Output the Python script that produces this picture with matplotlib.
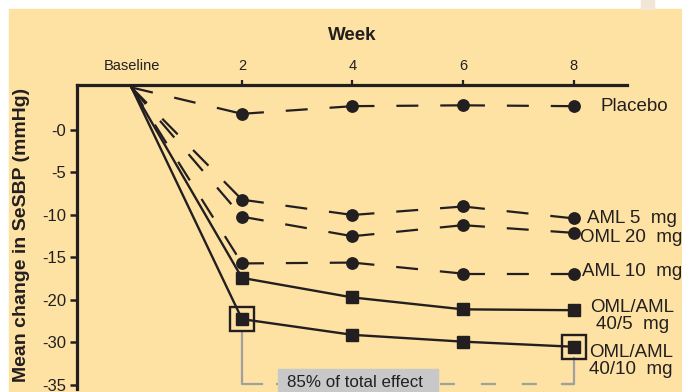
import numpy as np
import matplotlib.pyplot as plt
from matplotlib.patches import Rectangle

plt.rcParams['font.family'] = ['Liberation Sans', 'DejaVu Sans']
plt.rcParams['lines.scale_dashes'] = False

# data (mean change in SeSBP, mmHg)
weeks = [0, 2, 4, 6, 8]
week_labels = ['Baseline', '2', '4', '6', '8']
baseline_value = 5  # baseline sits on the top axis line

placebo = [1.9, 2.8, 2.9, 2.8]
aml_5 = [-8.2, -10.0, -9.0, -10.4]
oml_20 = [-10.2, -12.5, -11.2, -12.1]
aml_10 = [-15.7, -15.6, -16.9, -16.9]
oml_aml_40_5 = [-17.4, -19.7, -22.2, -22.4]
oml_aml_40_10 = [-24.5, -28.2, -29.8, -30.5]

y_ticks = [0, -5, -10, -15, -20, -30, -35]
y_tick_labels = ['-0', '-5', '-10', '-15', '-20', '-30', '-35']

# the axis is broken: -20 to -30 takes the same room as one 5 mmHg step
val_knots = [-200, -35, -30, -20, -15, -10, -5, 0, 5, 200]
pos_knots = [-39, -6, -5, -4, -3, -2, -1, 0, 1, 40]


def fwd(v):
    return np.interp(v, val_knots, pos_knots)


def inv(p):
    return np.interp(p, pos_knots, val_knots)


ink = '#231F20'
yellow = '#FDE2A3'

fig = plt.figure(figsize=(6.82, 3.92), dpi=100, facecolor='white')
fig.add_artist(Rectangle((9 / 682, 0), 1, 1 - 9 / 392, transform=fig.transFigure,
                         color=yellow, zorder=-10))
fig.add_artist(Rectangle((641 / 682, 1 - 9 / 392), 13 / 682, 9 / 392,
                         transform=fig.transFigure, color='#F3E6D6', zorder=-10))

ax = fig.add_axes([77 / 682, 3 / 392, 550 / 682, 304 / 392])
ax.patch.set_visible(False)
ax.set_yscale('function', functions=(fwd, inv))
ax.set_xlim(-0.986, 8.968)
ax.set_ylim(-35.47, 5.29)

series = [
    (placebo, 'dashed', 'o'),
    (aml_5, 'dashed', 'o'),
    (oml_20, 'dashed', 'o'),
    (aml_10, 'dashed', 'o'),
    (oml_aml_40_5, 'solid', 's'),
    (oml_aml_40_10, 'solid', 's'),
]

for values, style, marker in series:
    ys = [baseline_value] + values
    for i in range(len(weeks) - 1):
        if style == 'dashed':
            ax.plot(weeks[i:i + 2], ys[i:i + 2], color=ink, lw=1.6,
                    dashes=(15.8, 15.8), solid_capstyle='butt', zorder=2)
        else:
            ax.plot(weeks[i:i + 2], ys[i:i + 2], color=ink, lw=1.7, zorder=2)
    ms = 8.2 if marker == 'o' else 8.6
    ax.plot(weeks[1:], values, ls='none', marker=marker, ms=ms, color=ink, zorder=4)

# open boxes around the 40/10 points at week 2 and week 8
ax.plot([weeks[1], weeks[4]], [oml_aml_40_10[0], oml_aml_40_10[3]], ls='none',
        marker='s', ms=17.3, mfc='none', mec=ink, mew=1.7, zorder=5)

# grey bracket with label
gray = '#A0A0A0'
ax.plot([2, 2, 2.36], [-27.76, -34.88, -34.88], color=gray, lw=1.6,
        clip_on=False, zorder=1)
ax.plot([2.36, 8], [-34.88, -34.88], color=gray, lw=1.6,
        linestyle=(19.4, (10.8, 18.7)), clip_on=False, zorder=1)
ax.plot([7.8, 8, 8], [-34.88, -34.88, -31.8], color=gray, lw=1.6,
        clip_on=False, zorder=1)
ax.add_patch(Rectangle((2.65, -40), 5.55 - 2.65, 40 - 33.1, color='#C8C8C8',
                       clip_on=False, zorder=3))
ax.text(4.05, -34.76, '85% of total effect', fontsize=12.2, color=ink,
        ha='center', va='center', zorder=4, clip_on=False)

# series labels
ax.text(8.48, 2.8, 'Placebo', fontsize=13.5, color=ink, va='center')
ax.text(8.24, -10.47, 'AML 5  mg', fontsize=13.5, color=ink, va='center')
ax.text(8.12, -12.6, 'OML 20  mg', fontsize=13.5, color=ink, va='center')
ax.text(8.15, -16.6, 'AML 10  mg', fontsize=13.5, color=ink, va='center')
ax.text(9.06, -23.8, 'OML/AML\n40/5  mg', fontsize=13.5, color=ink, va='center',
        ha='center', multialignment='center', linespacing=1.0)
ax.text(9.04, -32.2, 'OML/AML\n40/10  mg', fontsize=13.5, color=ink, va='center',
        ha='center', multialignment='center', linespacing=1.0)

# axes styling
for side in ['bottom', 'right']:
    ax.spines[side].set_visible(False)
for side in ['top', 'left']:
    ax.spines[side].set_linewidth(2.3)
    ax.spines[side].set_color(ink)

ax.xaxis.tick_top()
ax.set_xticks(weeks)
ax.set_xticklabels(week_labels)
ax.xaxis.get_major_ticks()[0].tick2line.set_visible(False)
ax.tick_params(axis='x', length=3.6, width=1.6, pad=5, labelsize=10.5,
               color=ink, labelcolor=ink)

ax.set_yticks(y_ticks)
ax.set_yticklabels(y_tick_labels)
ax.yaxis.set_minor_locator(plt.NullLocator())
ax.tick_params(axis='y', length=5, width=1.8, pad=3, labelsize=12,
               color=ink, labelcolor=ink)

fig.text(352 / 682, 1 - 36 / 392, 'Week', fontsize=13.5, weight='bold',
         color=ink, ha='center', va='center')
fig.text(22 / 682, 1 - 235 / 392, 'Mean change in SeSBP (mmHg)', fontsize=14,
         weight='bold', color=ink, ha='center', va='center', rotation=90)

fig.savefig('out.png', dpi=100, facecolor=fig.get_facecolor())
